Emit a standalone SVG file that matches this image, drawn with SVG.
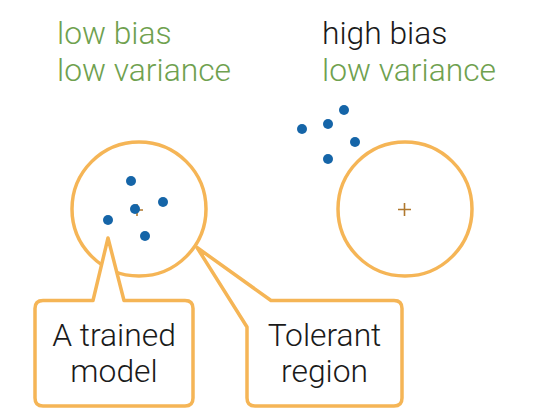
<svg xmlns="http://www.w3.org/2000/svg" width="554" height="413" viewBox="0 0 554 413">
<style>
.lbl{font-family:Roboto,"Liberation Sans",sans-serif;font-weight:300;font-size:31.8px}
.green{fill:#6FA14F}
.black{fill:#1a1a1a}
.ring{fill:none;stroke:#F5B556;stroke-width:3.5}
.call{fill:#fff;stroke:#F5B556;stroke-width:3.5;stroke-linejoin:round}
.cross{stroke:#B0782E;stroke-width:1.6;fill:none}
.dot{fill:#1565A8}
</style>
<rect width="554" height="413" fill="#fff"/>
<g id="title-left">
<text class="lbl green" x="57" y="44">low bias</text>
<text class="lbl green" x="57" y="81">low variance</text>
</g>
<g id="title-right">
<text class="lbl black" x="322" y="44">high bias</text>
<text class="lbl green" x="322" y="81">low variance</text>
</g>
<g id="target-left">
<circle class="ring" cx="139" cy="209" r="67"/>
<path class="cross" d="M131 210h12M137 204v12"/>
</g>
<g id="target-right">
<circle class="ring" cx="405" cy="209" r="67"/>
<path class="cross" d="M398 209.5h13M404.5 203v13"/>
</g>
<g id="dots-left">
<circle class="dot" cx="131" cy="181" r="5"/>
<circle class="dot" cx="163" cy="202" r="5"/>
<circle class="dot" cx="135" cy="209" r="5"/>
<circle class="dot" cx="108" cy="220" r="5"/>
<circle class="dot" cx="145" cy="236" r="5"/>
</g>
<g id="dots-right">
<circle class="dot" cx="344" cy="110" r="5"/>
<circle class="dot" cx="302" cy="129" r="5"/>
<circle class="dot" cx="328" cy="124" r="5"/>
<circle class="dot" cx="355" cy="142" r="5"/>
<circle class="dot" cx="328" cy="159" r="5"/>
</g>
<g id="connectors">
<g id="callout-model">
<path class="call" d="M93 300.5L108 238L124 300.5H185Q193 300.5 193 308.5V398Q193 406 185 406H43Q35 406 35 398V308.5Q35 300.5 43 300.5Z"/>
<text class="lbl black" x="114" y="346" text-anchor="middle">A trained</text>
<text class="lbl black" x="114" y="382" text-anchor="middle">model</text>
</g>
<g id="callout-region">
<path class="call" d="M197 247.5L271 300.5H394Q402 300.5 402 308.5V398Q402 406 394 406H255Q247 406 247 398V327Z"/>
<text class="lbl black" x="324.5" y="346" text-anchor="middle">Tolerant</text>
<text class="lbl black" x="324.5" y="382" text-anchor="middle">region</text>
</g>
</g>
</svg>
